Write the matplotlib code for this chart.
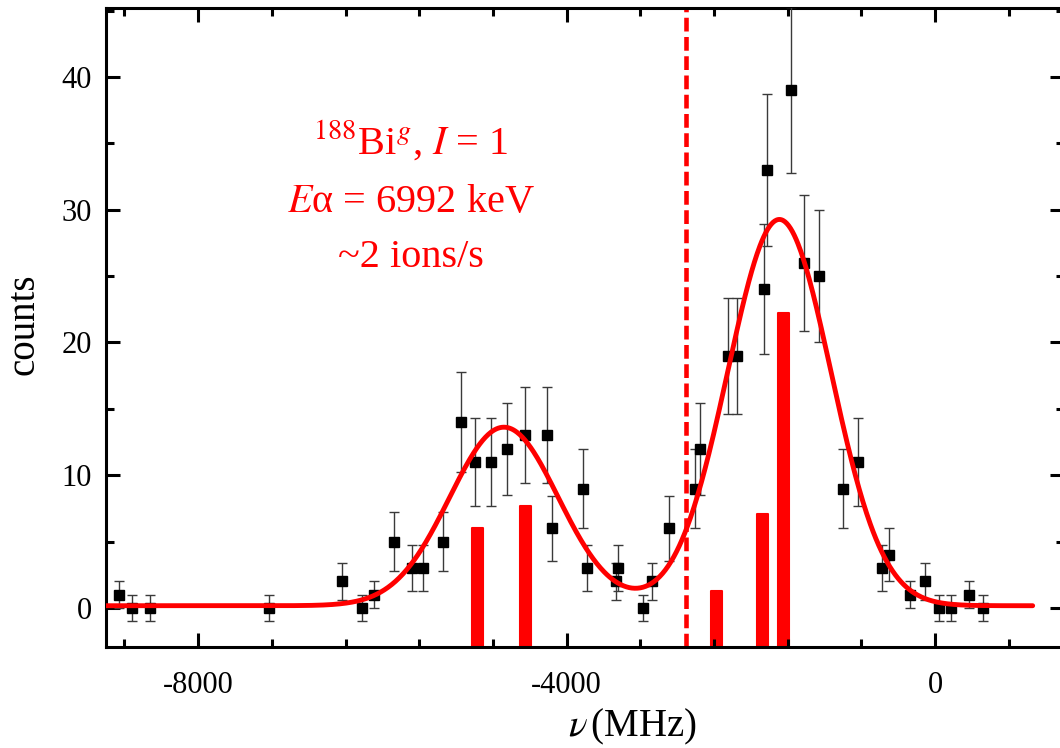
import numpy as np
import matplotlib
matplotlib.use("Agg")
import matplotlib.pyplot as plt
from matplotlib.ticker import MultipleLocator, FixedLocator

plt.rcParams["font.family"] = ["Liberation Serif", "DejaVu Serif"]
plt.rcParams["mathtext.fontset"] = "stix"
plt.rcParams["axes.unicode_minus"] = False

# ----------------------------
# Data
# ----------------------------
# frequency (MHz) and counts of each scan step
freq = [-8857, -8716, -8521, -7229, -6437, -6220, -6090, -5872, -5680, -5554,
        -5344, -5148, -4993, -4823, -4649, -4451, -4212, -4161, -3824, -3774,
        -3463, -3441, -3170, -3072, -2887, -2605, -2551, -2247, -2149, -1856,
        -1824, -1563, -1422, -1259, -999, -836, -575, -499, -271, -109,
        43, 174, 369, 521]
counts = [1, 0, 0, 0, 2, 0, 1, 5, 3, 3,
          5, 14, 11, 11, 12, 13, 13, 6, 9, 3,
          2, 3, 0, 2, 6, 9, 12, 19, 19, 24,
          33, 39, 26, 25, 9, 11, 3, 4, 1, 2,
          0, 0, 1, 0]
# statistical errors (sqrt(N), 1 for empty bins)
errors = [1.0, 1.0, 1.0, 1.0, 1.41, 1.0, 1.0, 2.24, 1.73, 1.73,
          2.24, 3.74, 3.32, 3.32, 3.46, 3.61, 3.61, 2.45, 3.0, 1.73,
          1.41, 1.73, 1.0, 1.41, 2.45, 3.0, 3.46, 4.36, 4.36, 4.9,
          5.74, 6.24, 5.1, 5.0, 3.0, 3.32, 1.73, 2.0, 1.0, 1.41,
          1.0, 1.0, 1.0, 1.0]

# hyperfine components (position MHz, relative intensity)
hfs_pos = [-4962, -4446, -2372, -1873, -1640]
hfs_int = [6.0, 7.7, 1.3, 7.1, 22.2]

# centroid marker
centroid = -2704

# fitted profile: two gaussian peaks on a flat background
fit_centers = [-4680, -1690]
fit_sigmas = [590, 560]
fit_amps = [13.45, 29.1]
fit_bg = 0.17
fit_range = (-9000, 1060)

X_LIM = (-9000, 1400)
Y_LIM = (-2.94, 45.2)

RED = "#ff0000"

# ----------------------------
# Plot
# ----------------------------
fig = plt.figure(figsize=(10.6, 7.48), dpi=100)
ax = fig.add_axes([106 / 1060, 101 / 748, 958 / 1060, 639 / 748])

# hyperfine component sticks, from the bottom of the frame
hfs_int = np.asarray(hfs_int)
ax.bar(hfs_pos, hfs_int - Y_LIM[0], bottom=Y_LIM[0], width=120,
       color=RED, edgecolor=RED, linewidth=1.5, joinstyle="round", zorder=1)

ax.axvline(centroid, color=RED, lw=3.3, dashes=(3.0, 1.2), zorder=2)

ax.errorbar(freq, counts, yerr=errors, fmt="s", color="black", ms=7.5,
            ecolor="#3a3a3a", elinewidth=1.0, capsize=3.3, capthick=1.0, zorder=3)

xx = np.linspace(fit_range[0], fit_range[1], 1000)
yy = np.full_like(xx, fit_bg)
for c, s, a in zip(fit_centers, fit_sigmas, fit_amps):
    yy += a * np.exp(-(xx - c) ** 2 / (2 * s ** 2))
ax.plot(xx, yy, color=RED, lw=3.5, solid_capstyle="round", zorder=4)

# label block
ax.text(-5688, 34.2, r"$^{188}$Bi$^{g}$, $I$ = 1", color=RED, fontsize=29,
        ha="center", va="baseline")
ax.text(-5688, 29.83, r"$E$α = 6992 keV", color=RED, fontsize=29,
        ha="center", va="baseline")
ax.text(-5688, 25.69, "~2 ions/s", color=RED, fontsize=29,
        ha="center", va="baseline")

ax.set_xlim(*X_LIM)
ax.set_ylim(*Y_LIM)
ax.xaxis.set_major_locator(FixedLocator([-8000, -4000, 0]))
ax.xaxis.set_minor_locator(MultipleLocator(800))
ax.yaxis.set_major_locator(MultipleLocator(10))
ax.yaxis.set_minor_locator(MultipleLocator(5))

for sp in ax.spines.values():
    sp.set_linewidth(2.2)
ax.spines["right"].set_visible(False)
ax.tick_params(which="both", direction="in", top=True, right=True, width=2.2)
ax.tick_params(which="major", length=10, labelsize=22)
ax.tick_params(which="minor", length=5.5)
ax.tick_params(axis="x", which="major", pad=17)
ax.tick_params(axis="y", which="major", pad=10)

ax.set_xlabel(r"$\nu\,$(MHz)", fontsize=28)
ax.xaxis.set_label_coords(0.55, -0.094)
ax.set_ylabel("counts", fontsize=28)
ax.yaxis.set_label_coords(-0.066, 0.505)

fig.savefig("out.png", dpi=100)
